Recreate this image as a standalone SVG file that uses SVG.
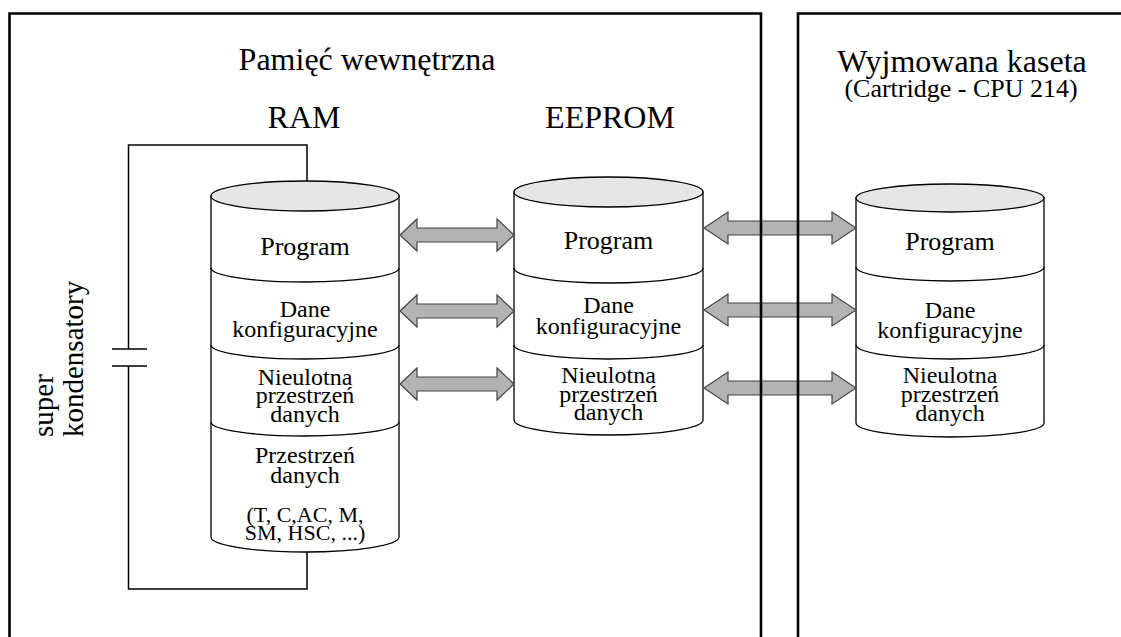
<svg xmlns="http://www.w3.org/2000/svg" width="1121" height="637" viewBox="0 0 1121 637">
<style>
text{font-family:"Liberation Serif","Times New Roman",serif;fill:#000;text-anchor:middle}
.t32{font-size:32px}
.t26{font-size:26px}
.t24{font-size:24px}
.t22{font-size:22px}
.t29{font-size:29px}
.body{fill:#fff;stroke:#000;stroke-width:1.3}
.top{fill:#e6e6e6;stroke:#000;stroke-width:1.3}
.sec{fill:none;stroke:#000;stroke-width:1.3}
.wire{fill:none;stroke:#000;stroke-width:1.5}
.frame{fill:none;stroke:#000;stroke-width:2.6}
.arr{fill:#b3b3b3;stroke:#444;stroke-width:1.2;stroke-linejoin:miter}
</style>
<rect width="1121" height="637" fill="#fff"/>

<g id="labels">
<text class="t32" x="367" y="70">Pamięć wewnętrzna</text>
<text class="t32" x="304" y="128">RAM</text>
<text class="t32" x="610" y="128">EEPROM</text>
<text class="t32" x="962" y="72">Wyjmowana kaseta</text>
<text class="t26" x="961" y="97">(Cartridge - CPU 214)</text>
</g>

<g id="capacitor">
<path class="wire" d="M307,181 L307,145 L128.5,145 L128.5,349 M112,349 L147,349 M112,366 L147,366 M128.5,366 L128.5,589 L307,589 L307,552"/>
<text class="t29" transform="translate(53,437) rotate(-90)" style="text-anchor:start">super</text>
<text class="t29" transform="translate(83,437) rotate(-90)" style="text-anchor:start">kondensatory</text>
</g>

<g id="ram">
<path class="body" d="M211,196 L211,537 A94,15 0 0 0 399,537 L399,196 Z"/>
<ellipse class="top" cx="305" cy="196" rx="94" ry="15"/>
<path class="sec" d="M211,268 A94,14 0 0 0 399,268 M211,345 A94,14 0 0 0 399,345 M211,422 A94,14 0 0 0 399,422"/>
<text class="t26" x="305" y="255">Program</text>
<text class="t24" x="305" y="317">Dane</text>
<text class="t24" x="305" y="337">konfiguracyjne</text>
<text class="t24" x="305" y="385">Nieulotna</text>
<text class="t24" x="305" y="403">przestrzeń</text>
<text class="t24" x="305" y="422">danych</text>
<text class="t24" x="305" y="463">Przestrzeń</text>
<text class="t24" x="305" y="483">danych</text>
<text class="t22" x="305" y="522">(T, C,AC, M,</text>
<text class="t22" x="305" y="540">SM, HSC, ...)</text>
</g>

<g id="eeprom">
<path class="body" d="M514,192 L514,420 A94.5,15 0 0 0 703,420 L703,192 Z"/>
<ellipse class="top" cx="608.5" cy="192" rx="94.5" ry="15"/>
<path class="sec" d="M514,268 A94.5,15 0 0 0 703,268 M514,345 A94.5,14 0 0 0 703,345"/>
<text class="t26" x="608.5" y="249">Program</text>
<text class="t24" x="608.5" y="313">Dane</text>
<text class="t24" x="608.5" y="334">konfiguracyjne</text>
<text class="t24" x="608.5" y="383">Nieulotna</text>
<text class="t24" x="608.5" y="402">przestrzeń</text>
<text class="t24" x="608.5" y="420">danych</text>
</g>

<g id="cartridge">
<path class="body" d="M856,198 L856,423 A94,14 0 0 0 1044,423 L1044,198 Z"/>
<ellipse class="top" cx="950" cy="198" rx="94" ry="14"/>
<path class="sec" d="M856,267 A94,14 0 0 0 1044,267 M856,345 A94,14 0 0 0 1044,345"/>
<text class="t26" x="950" y="250">Program</text>
<text class="t24" x="950" y="318">Dane</text>
<text class="t24" x="950" y="338">konfiguracyjne</text>
<text class="t24" x="950" y="383">Nieulotna</text>
<text class="t24" x="950" y="402">przestrzeń</text>
<text class="t24" x="950" y="421">danych</text>
</g>

<g id="connectors">
<path class="arr" d="M400,235 L417,219 L417,228 L497,228 L497,219 L514,235 L497,251 L497,242 L417,242 L417,251 Z"/>
<path class="arr" d="M400,311 L417,295 L417,304 L497,304 L497,295 L514,311 L497,327 L497,318 L417,318 L417,327 Z"/>
<path class="arr" d="M400,384 L417,368 L417,377 L497,377 L497,368 L514,384 L497,400 L497,391 L417,391 L417,400 Z"/>
<path class="arr" d="M704,228 L728,212 L728,221 L832,221 L832,212 L856,228 L832,244 L832,235 L728,235 L728,244 Z"/>
<path class="arr" d="M704,310 L728,294 L728,303 L832,303 L832,294 L856,310 L832,326 L832,317 L728,317 L728,326 Z"/>
<path class="arr" d="M704,388 L728,372 L728,381 L832,381 L832,372 L856,388 L832,404 L832,395 L728,395 L728,404 Z"/>
</g>

<g id="frame-internal">
<path class="frame" d="M9.5,660 L9.5,13.5 L761,13.5 L761,660"/>
</g>
<g id="frame-cartridge">
<path class="frame" d="M798,660 L798,13.5 L1130,13.5"/>
</g>
</svg>
